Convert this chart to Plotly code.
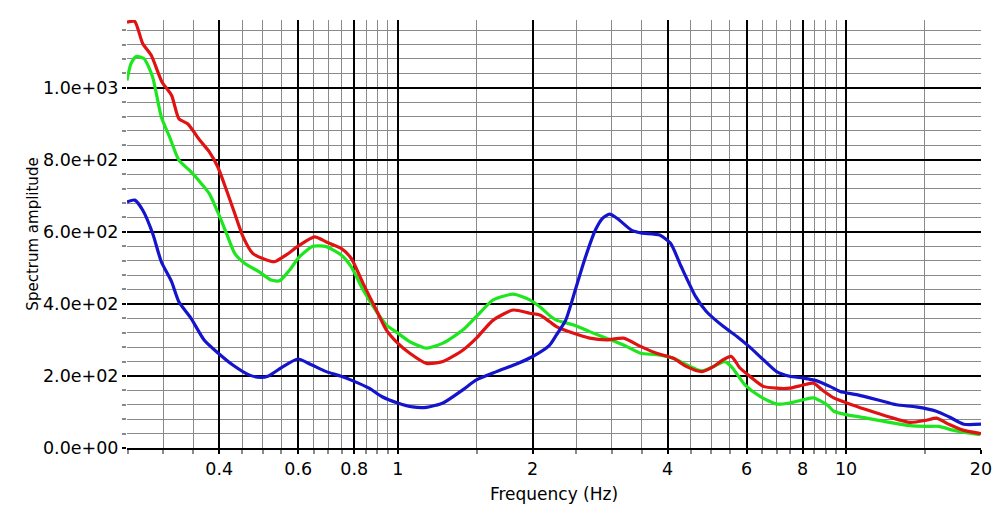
import plotly.graph_objects as go
import numpy as np

# spectrum amplitude readings (frequency in Hz)
freq_red = [0.249, 0.259, 0.270, 0.282, 0.298, 0.313, 0.325, 0.340, 0.362, 0.380,
            0.397, 0.415, 0.433, 0.452, 0.475, 0.500, 0.531, 0.564, 0.604, 0.653,
            0.693, 0.748, 0.788, 0.837, 0.896, 0.943, 1.0, 1.064, 1.159, 1.262,
            1.399, 1.498, 1.633, 1.81, 1.97, 2.075, 2.18, 2.26, 2.46, 2.68, 2.92,
            3.19, 3.48, 3.78, 4.12, 4.41, 4.77, 5.06, 5.32, 5.55, 5.80, 6.09,
            6.54, 7.0, 7.48, 8.03, 8.46, 8.83, 9.39, 10.04, 11.12, 12.5, 13.9,
            15.1, 15.9, 17.0, 18.3, 20.0]
amp_red = [1182, 1184, 1122, 1090, 1016, 979, 914, 900, 854, 822,
           780, 716, 651, 586, 540, 526, 517, 536, 563, 586,
           572, 554, 526, 457, 383, 328, 291, 263, 235, 240,
           272, 305, 355, 383, 374, 369, 351, 337, 319, 305, 300,
           305, 282, 263, 249, 226, 212, 226, 245, 254, 222, 200,
           171, 166, 166, 175, 180, 162, 139, 125, 106, 86, 71,
           77, 83, 65, 49, 40]

freq_green = [0.249, 0.254, 0.261, 0.272, 0.284, 0.297, 0.310, 0.325, 0.343, 0.362,
              0.380, 0.398, 0.415, 0.433, 0.456, 0.491, 0.522, 0.545, 0.574, 0.604,
              0.647, 0.693, 0.748, 0.788, 0.837, 0.896, 0.943, 1.0, 1.064, 1.159,
              1.262, 1.399, 1.498, 1.633, 1.81, 1.97, 2.075, 2.18, 2.26, 2.46, 2.68,
              2.92, 3.19, 3.48, 3.78, 4.12, 4.41, 4.77, 5.06, 5.36, 5.55, 5.95,
              6.43, 7.0, 7.48, 8.03, 8.46, 9.07, 9.39, 10.04, 11.12, 12.5, 13.9,
              15.1, 16.1, 17.4, 19.9]
amp_green = [1020, 1066, 1087, 1080, 1030, 919, 863, 799, 771, 739,
             706, 651, 596, 540, 512, 489, 466, 464, 494, 531,
             560, 559, 536, 503, 439, 379, 342, 319, 295, 277,
             291, 328, 365, 411, 427, 411, 392, 368, 355, 342, 323,
             305, 286, 263, 259, 249, 231, 214, 226, 240, 226, 175,
             143, 122, 125, 134, 139, 120, 102, 92, 83, 71, 62,
             60, 60, 49, 37]

freq_blue = [0.249, 0.259, 0.270, 0.284, 0.297, 0.313, 0.325, 0.346, 0.370, 0.398,
             0.428, 0.466, 0.494, 0.515, 0.555, 0.599, 0.642, 0.693, 0.748, 0.80,
             0.863, 0.921, 1.0, 1.08, 1.159, 1.262, 1.399, 1.498, 1.66, 1.84,
             2.0, 2.18, 2.26, 2.37, 2.49, 2.61, 2.76, 2.86, 2.97, 3.09,
             3.32, 3.49, 3.84, 4.06, 4.29, 4.62, 4.88, 5.33, 5.72, 6.1,
             6.54, 7.0, 7.48, 8.03, 8.58, 9.2, 9.7, 10.56, 11.73, 12.96,
             14.33, 15.9, 17.0, 18.3, 20.0]
amp_blue = [683, 688, 660, 596, 517, 462, 406, 360, 300, 263,
            231, 203, 196, 200, 226, 247, 231, 212, 199, 185,
            166, 143, 125, 114, 113, 125, 162, 189, 212, 233,
            254, 285, 314, 355, 439, 522, 605, 637, 649, 637,
            605, 597, 591, 568, 503, 420, 379, 337, 309, 280,
            245, 212, 199, 194, 187, 171, 157, 148, 134, 120,
            114, 102, 86, 66, 66]

x_ticks = [0.4, 0.6, 0.8, 1, 2, 4, 6, 8, 10, 20]
x_ticktext = ["0.4", "0.6", "0.8", "1", "2", "4", "6", "8", "10", "20"]
x_minor = ([round(0.25 + 0.05 * i, 2) for i in range(16)]
           + [1 + 0.5 * i for i in range(19)] + [15])
y_ticks = [0, 200, 400, 600, 800, 1000]
y_ticktext = ["0.0e+00", "2.0e+02", "4.0e+02", "6.0e+02", "8.0e+02", "1.0e+03"]

fig = go.Figure()
for f, a, col in [(freq_green, amp_green, "#1ee61e"),
                  (freq_red, amp_red, "#e01212"),
                  (freq_blue, amp_blue, "#1414cc")]:
    fig.add_trace(go.Scatter(x=f, y=a, mode="lines",
                             line=dict(color=col, width=3.2, shape="spline", smoothing=0.6),
                             showlegend=False, hoverinfo="skip"))

font = dict(family="DejaVu Sans", size=17.5, color="black")

# the page body has an 8px margin, so the figure is shrunk by that offset
fig.update_layout(
    width=994, height=513,
    margin=dict(l=119, r=21, t=12, b=73),
    paper_bgcolor="white", plot_bgcolor="white",
    font=font,
    xaxis=dict(type="log", range=[np.log10(0.249), np.log10(20.0)],
               automargin=False,
               tickmode="array", tickvals=x_ticks, ticktext=x_ticktext,
               showgrid=True, gridcolor="black", gridwidth=2,
               ticks="outside", ticklen=4, tickcolor="black", tickwidth=2,
               showline=True, linecolor="black", linewidth=2,
               zeroline=False,
               minor=dict(tickmode="array", tickvals=x_minor, showgrid=True,
                          gridcolor="#8a8a8a", gridwidth=1,
                          ticks="outside", ticklen=4, tickcolor="#8a8a8a"),
               title=dict(text="Frequency (Hz)", font=dict(family="DejaVu Sans", size=17, color="black"),
                          standoff=10)),
    yaxis=dict(range=[0, 1188], automargin=False,
               tickmode="array", tickvals=y_ticks, ticktext=y_ticktext,
               showgrid=True, gridcolor="black", gridwidth=2,
               ticks="outside", ticklen=4, tickcolor="black", tickwidth=2,
               showline=False, zeroline=False,
               minor=dict(tick0=0, dtick=40, showgrid=True,
                          gridcolor="#8a8a8a", gridwidth=1,
                          ticks="outside", ticklen=4, tickcolor="#8a8a8a"),
               title=dict(text="Spectrum amplitude",
                          font=dict(family="DejaVu Sans", size=15, color="black"),
                          standoff=0)),
)

fig.write_html("out.html")
